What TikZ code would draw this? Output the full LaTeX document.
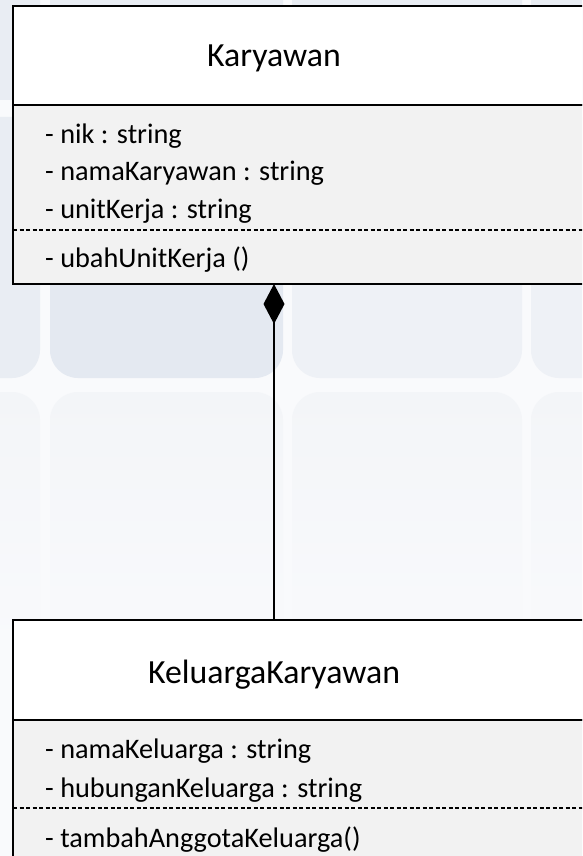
\documentclass[tikz,border=0pt]{standalone}
\usepackage{fontspec}
\setmainfont{Carlito}
\usepackage{tikz}
\usetikzlibrary{arrows.meta,shapes,positioning}
\usepackage{xcolor}
\definecolor{umlgrey}{RGB}{242,242,242}
\definecolor{bgpale}{RGB}{249,250,252}
\definecolor{bgtileA}{RGB}{233,237,243}
\definecolor{bgtileB}{RGB}{228,233,241}
\definecolor{bgtileC}{RGB}{238,241,246}
\definecolor{bgtileD}{RGB}{243,245,248}
\tikzstyle{classhead} = [rectangle, anchor=north west, minimum width=600pt, minimum height=99pt, draw=black, fill=white, line width=2.5pt, inner sep=0pt, outer sep=0pt]
\tikzstyle{classbody} = [rectangle, anchor=north west, minimum width=600pt, draw=black, fill=umlgrey, line width=2.5pt, inner sep=0pt, outer sep=0pt]
\tikzstyle{classname} = [anchor=base, inner sep=0pt, font=\fontsize{33.8}{40}\selectfont]
\tikzstyle{member} = [anchor=base west, inner sep=0pt, font=\fontsize{28.3}{34}\selectfont]
\tikzstyle{divider} = [line width=1.3pt, dash pattern=on 4pt off 2.5pt]
\tikzstyle{composition} = [line width=2pt, -{Diamond[length=40pt,width=21pt]}]

\begin{document}
\begin{tikzpicture}[x=1pt, y=1pt]
\clip (0,0) rectangle (582,-856);
% slide background
\fill[bgpale] (0,0) rectangle (582,-856);
\fill[bgtileA, rounded corners=28pt] (-200,60) rectangle (40,-100) (50,60) rectangle (283,-100) (292,60) rectangle (522,-100) (531,60) rectangle (780,-100);
\fill[bgtileA, rounded corners=28pt] (-200,-117) rectangle (40,-378);
\fill[bgtileB, rounded corners=28pt] (50,-117) rectangle (283,-378);
\fill[bgtileC, rounded corners=28pt] (292,-117) rectangle (522,-378) (531,-117) rectangle (780,-378);
\shade[top color=bgtileD, bottom color=bgpale, rounded corners=28pt] (-200,-392) rectangle (40,-650) (50,-392) rectangle (283,-650) (292,-392) rectangle (522,-650) (531,-392) rectangle (780,-650);

% class Karyawan
\node (karyawanHead) [classhead] at (13,-6) {};
\node (karyawanBody) [classbody, minimum height=179pt] at (karyawanHead.south west) {};
\node (karyawanName) [classname] at (274,-67) {Karyawan};
\node (nik) [member] at (45,-143) {- nik : string};
\node (namaKaryawan) [member] at (45,-180.5) {- namaKaryawan : string};
\node (unitKerja) [member] at (45,-218) {- unitKerja : string};
\draw[divider] (karyawanBody.west |- 0,-230) -- (karyawanBody.east |- 0,-230);
\node (ubahUnitKerja) [member] at (45,-267) {- ubahUnitKerja ()};

% class KeluargaKaryawan
\node (keluargaHead) [classhead, minimum height=100pt] at (13,-620) {};
\node (keluargaBody) [classbody, minimum height=200pt] at (keluargaHead.south west) {};
\node (keluargaName) [classname] at (274,-683) {KeluargaKaryawan};
\node (namaKeluarga) [member] at (45,-758) {- namaKeluarga : string};
\node (hubunganKeluarga) [member] at (45,-797) {- hubunganKeluarga : string};
\draw[divider] (keluargaBody.west |- 0,-808) -- (keluargaBody.east |- 0,-808);
\node (tambahAnggota) [member] at (45,-847) {- tambahAnggotaKeluarga()};

\draw[composition] (keluargaName |- keluargaHead.north) -- (karyawanName |- karyawanBody.south);
\end{tikzpicture}
\end{document}
